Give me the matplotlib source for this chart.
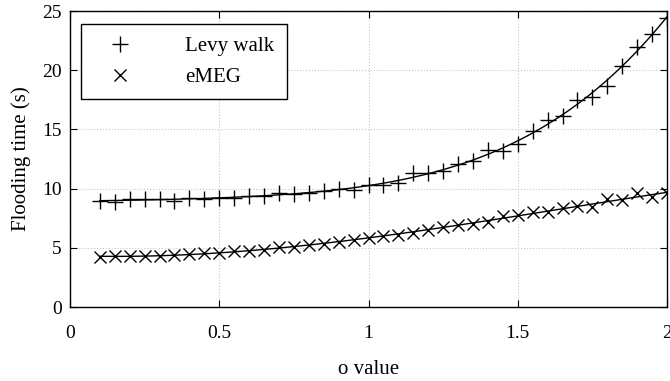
import numpy as np
import matplotlib
matplotlib.use("Agg")
import matplotlib.pyplot as plt

plt.rcParams["font.family"] = ["Liberation Serif", "DejaVu Serif"]

# o 取值与两种方案的泛洪时间 (s)
sigma = [0.10, 0.15, 0.20, 0.25, 0.30, 0.35, 0.40, 0.45, 0.50, 0.55,
         0.60, 0.65, 0.70, 0.75, 0.80, 0.85, 0.90, 0.95, 1.00, 1.05,
         1.10, 1.15, 1.20, 1.25, 1.30, 1.35, 1.40, 1.45, 1.50, 1.55,
         1.60, 1.65, 1.70, 1.75, 1.80, 1.85, 1.90, 1.95, 2.00]
levy = [9.0, 8.9, 9.1, 9.1, 9.1, 9.0, 9.2, 9.1, 9.25, 9.25,
        9.4, 9.4, 9.6, 9.55, 9.6, 9.8, 10.0, 9.9, 10.3, 10.3,
        10.5, 11.3, 11.3, 11.5, 12.1, 12.3, 13.25, 13.2, 13.75, 14.9,
        15.8, 16.1, 17.5, 17.75, 18.65, 20.4, 22.0, 23.1, 24.4]
emeg = [4.2, 4.3, 4.3, 4.3, 4.35, 4.4, 4.45, 4.55, 4.6, 4.7,
        4.75, 4.85, 5.05, 5.1, 5.27, 5.35, 5.47, 5.7, 5.85, 6.0,
        6.1, 6.25, 6.5, 6.8, 6.95, 7.0, 7.15, 7.7, 7.8, 8.05,
        8.0, 8.35, 8.5, 8.45, 9.1, 9.05, 9.65, 9.3, 9.6]

x = np.array(sigma)
xs = np.linspace(x.min(), x.max(), 300)
levy_fit = np.polyval(np.polyfit(x, levy, 4), xs)
emeg_fit = np.polyval(np.polyfit(x, emeg, 3), xs)

fig = plt.figure(figsize=(6.70, 3.81), dpi=100)
ax = fig.add_axes([0.1045, 0.194, 0.891, 0.777])

ax.plot(xs, levy_fit, color="black", lw=1.0)
ax.plot(xs, emeg_fit, color="black", lw=1.0)
ax.plot(x, levy, linestyle="none", marker="+", ms=12, mew=1.0,
        color="black", label="Levy walk")
ax.plot(x, emeg, linestyle="none", marker="x", ms=9, mew=1.0,
        color="black", label="eMEG")

ax.set_xlim(0, 2)
ax.set_ylim(0, 25)
ax.set_xticks([0, 0.5, 1, 1.5, 2])
ax.set_xticklabels(["0", "0.5", "1", "1.5", "2"])
ax.set_yticks([0, 5, 10, 15, 20, 25])
ax.tick_params(direction="in", top=True, right=True, labelsize=14,
               length=5, width=0.8)
ax.tick_params(axis="x", pad=13)
ax.tick_params(axis="y", pad=6)
ax.grid(True, color="#c8c8c8", linestyle=":", linewidth=0.8)
for sp in ax.spines.values():
    sp.set_linewidth(1.0)

ax.set_xlabel("o value", fontsize=15, labelpad=13)
ax.set_ylabel("Flooding time (s)", fontsize=15, labelpad=8)

leg = ax.legend(loc="upper left", fontsize=15, handlelength=2.6,
                handletextpad=1.8, borderpad=0.6, labelspacing=0.55,
                fancybox=False, framealpha=1, edgecolor="black",
                bbox_to_anchor=(0.018, 0.957), borderaxespad=0)
leg.get_frame().set_linewidth(1.0)

fig.savefig("out.png", dpi=100)
